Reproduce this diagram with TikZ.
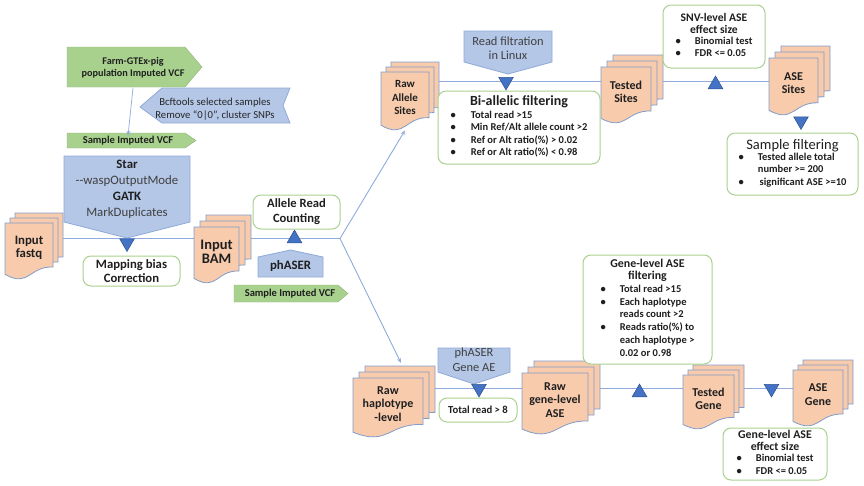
\documentclass[tikz,border=0pt]{standalone}
\usepackage{fontspec}
\setmainfont{Carlito}
\usetikzlibrary{shapes.geometric,arrows.meta,backgrounds}
\definecolor{peach}{HTML}{F8CBAD}
\definecolor{pageline}{HTML}{7F9CCB}
\definecolor{bluefill}{HTML}{B4C7E7}
\definecolor{blueline}{HTML}{8EA9D8}
\definecolor{greenfill}{HTML}{A9D18E}
\definecolor{greenline}{HTML}{A9D18E}
\definecolor{trifill}{HTML}{4472C4}
\definecolor{tridraw}{HTML}{2F528F}
\definecolor{flowc}{HTML}{8FAADC}
\definecolor{txt}{HTML}{1F1F1F}
\newcommand\fs[2]{\fontsize{#1}{#2}\selectfont}
% #1 name, #2 x, #3 y, #4 w, #5 h, #6 offset, #7 text
\newcommand\docstack[7]{%
  \foreach \k in {2,1,0}{%
    \begin{scope}[shift={({#2+\k*#6},{#3-\k*#6})}]
      \filldraw[docpage] (0,0) -- (#4,0) -- (#4,{0.80*#5})
        .. controls ({0.5*#4},{0.785*#5}) and ({0.5*#4},{1.18*#5}) .. (0,{0.934*#5}) -- cycle;
    \end{scope}
  }
  \node[doctext, minimum width=#4, minimum height={0.86*#5}] (#1) at ({#2+#4/2},{#3+0.45*#5}) {#7};
}
\begin{document}
\begin{tikzpicture}[x=1pt,y=-1pt,
  docpage/.style={fill=peach, draw=pageline, line width=0.8pt},
  doctext/.style={inner sep=0, align=center, font=\bfseries\fs{12}{13.5}, text=txt},
  gbox/.style={draw=greenline, line width=1pt, rounded corners=8pt, fill=white, align=center, inner sep=0, text=txt},
  bshape/.style={fill=bluefill, draw=blueline, line width=0.8pt},
  gshape/.style={fill=greenfill, draw=greenfill!85!black, line width=0.4pt},
  lbl/.style={inner sep=0, align=center, text=txt},
  tridown/.style={regular polygon, regular polygon sides=3, shape border rotate=180, fill=trifill, draw=tridraw, line width=0.5pt, minimum size=17pt, inner sep=0},
  triup/.style={regular polygon, regular polygon sides=3, fill=trifill, draw=tridraw, line width=0.5pt, minimum size=17pt, inner sep=0},
  flow/.style={draw=flowc, line width=0.9pt},
  arr/.style={draw=flowc, line width=0.9pt, -{Stealth[length=5pt,width=4pt]}}
]
\useasboundingbox (0,0) rectangle (864,485);

% ---- green and blue signal shapes (top left)
\filldraw[gshape] (67,47) -- (185,47) -- (202,67) -- (185,87) -- (67,87) -- cycle;
\node[lbl, font=\bfseries\fs{10.2}{11.5}, minimum width=120, minimum height=40] (farm) at (133,67.5) {Farm-GTEx-pig\\population Imputed VCF};
\filldraw[bshape] (140,107) -- (162,88) -- (290,88) -- (283,105.5) -- (290,123) -- (162,123) -- cycle;
\node[lbl, font=\fs{10.7}{12.5}, text=black!85] (bcf) at (215,109) {Bcftools selected samples\\Remove “0|0”, cluster SNPs};
\filldraw[gshape] (67,133) -- (185,133) -- (196,140.5) -- (185,148) -- (67,148) -- cycle;
\node[lbl, font=\bfseries\fs{10.5}{12}] (vcf1) at (128,140.5) {Sample Imputed VCF};

% ---- Star box
\filldraw[bshape] (64,156) -- (190,156) -- (190,222) -- (127,238) -- (64,222) -- cycle;
\node[lbl, font=\fs{12.8}{16}] (star) at (127,189) {\textbf{Star}\\{\color{black!75}-\kern0pt-waspOutputMode}\\\textbf{GATK}\\{\color{black!75}MarkDuplicates}};

% ---- read filtration / phASER shapes
\filldraw[bshape] (464,31) -- (552,31) -- (552,62) -- (508,74) -- (464,62) -- cycle;
\node[lbl, font=\fs{12.4}{14.5}, text=black!75] (readfilt) at (508,48) {Read filtration\\in Linux};
\filldraw[bshape] (258,277) -- (323,277) -- (323,257) -- (290.5,250) -- (258,257) -- cycle;
\node[lbl, font=\bfseries\fs{12.8}{14}] (phaser) at (290.5,266) {phASER};
\filldraw[bshape] (438,348) -- (510,348) -- (510,372) -- (474,384) -- (438,372) -- cycle;
\node[lbl, font=\fs{12.4}{15}, text=black!75] (phgene) at (474,360) {phASER\\Gene AE};
\filldraw[gshape] (234,285) -- (338,285) -- (348,293.5) -- (338,302) -- (234,302) -- cycle;
\node[lbl, font=\bfseries\fs{10.5}{12}] (vcf2) at (290,293.5) {Sample Imputed VCF};

% ---- document stacks
\docstack{fastq}{5}{223}{48}{55}{5}{\fs{12.8}{15}Input\\\fs{12.8}{15}fastq}
\docstack{bam}{194}{227}{45}{55}{6}{\fs{14.5}{16.5}Input\\\fs{14.5}{16.5}BAM}
\docstack{rawallele}{381}{72}{48}{57}{5}{\fs{11}{13.5}Raw\\\fs{11}{13.5}Allele\\\fs{11}{13.5}Sites}
\docstack{testedsites}{601}{67}{50}{55}{6}{Tested\\Sites}
\docstack{asesites}{769}{58}{49}{56}{6}{ASE\\Sites}
\docstack{rawhap}{353}{378}{70}{58}{6}{Raw\\haplotype\\-level}
\docstack{rawgene}{522}{373}{66}{60}{6}{Raw\\gene-level\\ASE}
\docstack{testedgene}{683}{375}{51}{53}{5}{Tested\\Gene}
\docstack{asegene}{793}{370}{50}{55}{5}{ASE\\Gene}

% ---- rounded boxes
\node[gbox, minimum width=97, minimum height=30, font=\bfseries\fs{12.7}{14.5}] (mapbias) at (131.5,271) {Mapping bias\\Correction};
\node[gbox, minimum width=87, minimum height=34, font=\bfseries\fs{12.6}{15}] (allelecount) at (296.5,212) {Allele Read\\Counting};
\node[gbox, minimum width=162, minimum height=73] (biallelic) at (519,127.5)
  {\bfseries\fs{14}{15.5}Bi-allelic filtering\\[0.5pt]
   \bfseries\fs{10.5}{12.5}\begin{tabular}[t]{@{}l@{\hspace{15pt}}l@{}}
   •&Total read >15\\ •&Min Ref/Alt allele count >2\\ •&Ref or Alt ratio(\%) > 0.02\\ •&Ref or Alt ratio(\%) < 0.98\end{tabular}};
\node[gbox, minimum width=102, minimum height=63] (snv) at (714,36.5)
  {\bfseries\fs{11.6}{14.5}SNV-level ASE\\\bfseries\fs{11.6}{14.5}effect size\\[-1.5pt]
   \bfseries\fs{10.5}{12}\begin{tabular}[t]{@{}l@{\hspace{14pt}}l@{}}
   •&Binomial test\\ •&FDR <= 0.05\end{tabular}};
\node[gbox, minimum width=131, minimum height=62] (samplefilt) at (792.5,164)
  {\fs{14.5}{15}Sample filtering\\[-1pt]
   \bfseries\fs{10.5}{12.5}\begin{tabular}[t]{@{}l@{\hspace{14pt}}l@{}}
   •&Tested allele total\\ &number >= 200\\ •&\,significant ASE >=10\end{tabular}};
\node[gbox, minimum width=78, minimum height=24, font=\bfseries\fs{10.7}{12}] (total8) at (478,410) {Total read > 8};
\node[gbox, minimum width=129, minimum height=109] (genefilt) at (647.5,309.5)
  {\bfseries\fs{11.9}{14}Gene-level ASE\\\bfseries\fs{11.9}{14}filtering\\[1pt]
   \bfseries\fs{10.5}{12.8}\begin{tabular}[t]{@{}l@{\hspace{14pt}}l@{}}
   •&Total read >15\\ •&Each haplotype\\ &reads count >2\\ •&Reads ratio(\%) to\\ &each haplotype >\\ &0.02 or 0.98\end{tabular}};
\node[gbox, minimum width=104, minimum height=52] (geneeff) at (775,454)
  {\bfseries\fs{11.8}{15}Gene-level ASE\\\bfseries\fs{11.8}{15}effect size\\[-1pt]
   \bfseries\fs{10.5}{12.5}\begin{tabular}[t]{@{}l@{\hspace{14pt}}l@{}}
   •&Binomial test\\ •&FDR <= 0.05\end{tabular}};

% ---- triangles
\node[tridown] (tri1) at (127,243) {};
\node[triup] (tri2) at (294.5,238.5) {};
\node[tridown] (tri3) at (506,81.5) {};
\node[triup] (tri4) at (715.5,84.5) {};
\node[tridown] (tri5) at (801,121) {};
\node[tridown] (tri6) at (479,388.5) {};
\node[triup] (tri7) at (639.5,392.5) {};
\node[tridown] (tri8) at (771.5,388.5) {};
\coordinate (branch) at (340,238.5);

% ---- connectors
\begin{scope}[on background layer]
  \draw[flow] (fastq.east |- tri2) -- (bam.west |- tri2);
  \draw[flow] (bam.east |- tri2) -- (branch);
  \draw[flow] (rawallele.east |- tri3) -- (testedsites.west |- tri3);
  \draw[flow] (testedsites.east |- tri3) -- (asesites.west |- tri3);
  \draw[flow] (rawhap.east |- tri6) -- (rawgene.west |- tri6);
  \draw[flow] (rawgene.east |- tri6) -- (testedgene.west |- tri6);
  \draw[flow] (testedgene.east |- tri6) -- (asegene.west |- tri6);
\end{scope}
\draw[arr, line width=0.7pt] (farm.south) -- (vcf1.north);
\draw[arr] (branch) -- ([yshift=-8pt]rawallele.south);
\draw[arr] (branch) -- ([xshift=13pt,yshift=16pt]rawhap.north);
\end{tikzpicture}
\end{document}
